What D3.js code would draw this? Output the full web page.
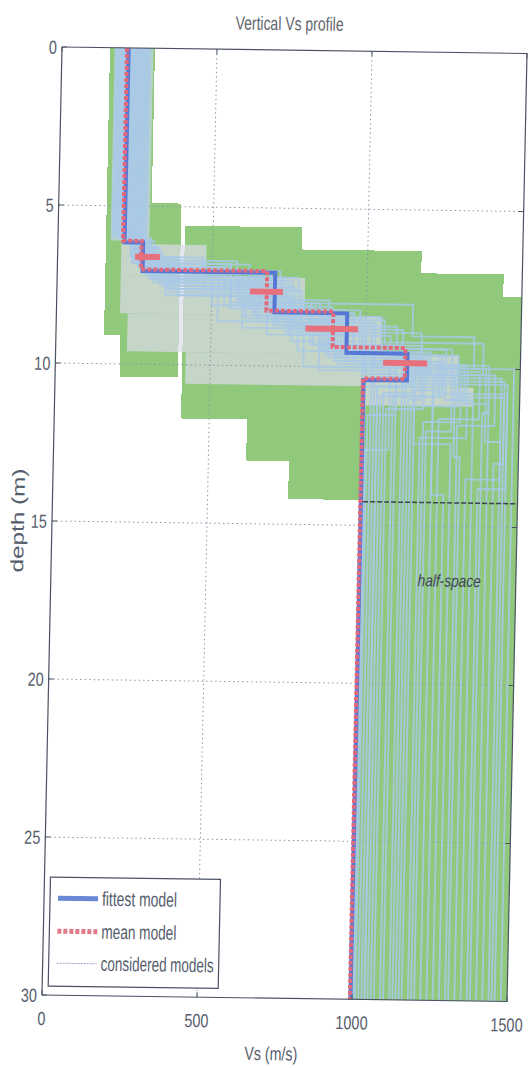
<!DOCTYPE html>
<html><head><meta charset="utf-8">
<script src="https://cdn.jsdelivr.net/npm/d3@7"></script>
<style>
body{margin:0;background:#fff}
text{font-family:"Liberation Sans",Arial,sans-serif;fill:#565d6c}
</style>
</head><body>
<svg id="c" width="529" height="1068"></svg>
<script>
// ---- data ----
const title = "Vertical Vs profile";
const xLabel = "Vs (m/s)";
const yLabel = "depth (m)";
const xTicks = [0, 500, 1000, 1500];
const yTicks = [0, 5, 10, 15, 20, 25, 30];
const fittestVs = [215, 275, 703, 938, 1135, 995];
const fittestZ  = [6.15, 7.05, 8.3, 9.55, 10.4];
const meanVs = [210, 270, 677, 893, 1128, 993];
const meanZ  = [6.1, 7.0, 8.25, 9.37, 10.35];
const meanBarV   = [290, 676, 889, 1128];
const meanBarErr = [40, 53, 85, 71];
const meanBarD   = [6.6, 7.65, 8.8, 9.85];
// search space (green)
const searchV0 = [155, 208, 300, 409, 622, 760, 787, 995, 1174, 1440];
const searchV1 = [208, 300, 396, 622, 760, 787, 995, 1174, 1440, 1500];
const searchD0 = [0, 0, 4.9, 5.6, 5.6, 5.6, 6.3, 6.3, 7.0, 7.7];
const searchD1 = [9.1, 10.4, 10.4, 11.7, 13.0, 14.2, 14.2, 30, 30, 30];
// dense overlap core of considered models
const coreV0 = [170, 205, 205, 230, 420, 990];
const coreV1 = [295, 480, 800, 1050, 1300, 1350];
const coreD0 = [0, 6.2, 7.2, 8.4, 9.6, 10.6];
const coreD1 = [6.1, 7.2, 8.4, 9.6, 10.6, 11.2];
// considered models: layer velocities (last = half-space) and layer bottoms
const consideredVs = [
 [180,240,560,820,1180,1040],[250,330,650,900,1250,1090],[200,300,720,980,1300,1150],
 [270,380,600,850,1100,1010],[230,290,760,1050,1380,1220],[190,260,500,780,1150,1060],
 [285,350,680,1000,1420,1300],[210,310,740,920,1200,1120],[245,270,630,960,1330,1180],
 [175,250,580,880,1260,1350],[260,340,700,1100,1450,1420],[220,280,660,870,1170,1030],
 [235,320,780,1150,1350,1480],[195,265,520,800,1080,1005],[275,360,740,990,1220,1260],
 [205,295,690,940,1140,1100],[255,300,610,910,1400,1380],[185,245,560,850,1280,1200],
 [240,330,720,1020,1300,1450],[215,280,650,880,1190,1070],[265,390,750,1080,1440,1330],
 [200,270,540,830,1120,1040],[225,285,700,960,1250,1160],[280,340,770,1120,1370,1240],
 [190,255,620,900,1160,1280],[250,310,680,1060,1320,1400],[210,290,600,860,1210,1020],
 [235,305,730,1000,1290,1310],[270,370,710,940,1230,1460],[200,275,590,890,1130,1130],
 [180,235,470,760,1020,1000],[265,355,790,1180,1460,1370],[225,300,640,930,1240,1050],
 [255,325,705,990,1310,1190],[195,285,560,870,1180,1140],[240,315,750,1030,1390,1440]
];
const consideredZ = [
 [5.9,6.8,8.0,9.3,10.6],[6.3,7.3,8.6,9.8,10.9],[6.0,7.0,8.2,9.6,11.2],
 [6.6,7.6,8.8,10.1,11.5],[6.2,7.2,8.4,9.2,10.2],[5.8,6.9,8.1,9.5,10.8],
 [6.8,7.8,9.0,10.2,11.8],[6.1,7.4,8.5,9.7,10.5],[6.4,7.1,8.3,9.9,12.2],
 [6.0,6.7,7.9,9.4,11.0],[6.5,7.5,8.7,10.4,13.0],[6.2,7.0,8.2,9.6,10.3],
 [6.3,7.2,8.0,9.0,10.0],[5.9,6.9,8.6,10.0,12.6],[6.7,7.7,8.9,10.6,14.0],
 [6.1,7.1,8.3,9.5,10.4],[6.4,7.3,8.5,9.9,11.4],[5.8,6.8,8.0,9.4,12.0],
 [6.3,7.4,8.6,10.0,10.9],[6.2,7.0,8.4,9.7,11.3],[6.6,7.8,9.0,10.3,13.5],
 [6.0,6.9,8.1,9.3,10.6],[6.2,7.1,8.3,9.6,10.7],[6.7,7.5,8.8,10.1,11.6],
 [5.9,6.8,8.2,9.8,12.4],[6.4,7.3,8.5,9.9,11.1],[6.1,7.2,8.4,9.5,10.2],
 [6.3,7.2,8.5,10.2,12.8],[6.6,7.6,8.7,9.8,10.8],[6.0,7.0,8.1,9.4,10.5],
 [5.9,6.6,7.8,9.2,10.4],[6.6,7.6,8.9,10.5,13.8],[6.2,7.1,8.4,9.6,10.9],
 [6.5,7.4,8.6,9.9,11.7],[6.0,6.9,8.2,9.5,11.0],[6.3,7.3,8.6,10.0,12.3]
];
const halfSpaceDepth = 14.25;
const halfSpaceV = [1002, 1500];
const halfSpaceText = "half-space";
const legendLabels = ["fittest model", "mean model", "considered models"];

// ---- layout ----
const W = 465, H = 948, MAXD = 30;
const svg = d3.select("#c");
const g = svg.append("g").attr("transform", "matrix(1,0.014,-0.0211,1,62,47)");
const x = d3.scaleLinear().domain([0, 1500]).range([0, W]);
const y = d3.scaleLinear().domain([0, MAXD]).range([0, H]);

function stepPts(vs, z) {
  const pts = [[vs[0], 0]];
  for (let i = 0; i < z.length; i++) { pts.push([vs[i], z[i]]); pts.push([vs[i+1], z[i]]); }
  pts.push([vs[vs.length-1], MAXD]);
  return pts;
}
const line = d3.line().x(d => x(d[0])).y(d => y(d[1]));
// condense text horizontally (narrow font look)
function fit(sel, w) {
  sel.each(function(d) {
    const target = typeof w === "function" ? w.call(this, d) : w;
    this.setAttribute("textLength", target);
    this.setAttribute("lengthAdjust", "spacingAndGlyphs");
  });
  return sel;
}
function squeeze(sel, k) {
  sel.each(function() {
    const l = this.getComputedTextLength();
    this.setAttribute("textLength", l * k);
    this.setAttribute("lengthAdjust", "spacingAndGlyphs");
  });
  return sel;
}

// green search space
g.append("g").selectAll("rect").data(d3.range(searchV0.length)).join("rect")
  .attr("x", i => x(searchV0[i])).attr("y", i => y(searchD0[i]))
  .attr("width", i => x(searchV1[i]) - x(searchV0[i]))
  .attr("height", i => y(searchD1[i]) - y(searchD0[i]))
  .attr("fill", "#90c87c").attr("shape-rendering", "crispEdges");

// dense core
g.append("g").selectAll("rect").data(d3.range(coreV0.length)).join("rect")
  .attr("x", i => x(coreV0[i])).attr("y", i => y(coreD0[i]))
  .attr("width", i => x(coreV1[i]) - x(coreV0[i]))
  .attr("height", i => y(coreD1[i]) - y(coreD0[i]))
  .attr("fill", i => i === 0 ? "#c9d9e6" : "#dcdcea").attr("opacity", 0.7);

// grid
const grid = g.append("g").attr("stroke", "#8a94a8").attr("stroke-width", 1).attr("stroke-dasharray", "1.5,3");
grid.selectAll(".gx").data(xTicks.slice(1, -1)).join("line")
  .attr("x1", d => x(d)).attr("x2", d => x(d)).attr("y1", 0).attr("y2", H);
grid.selectAll(".gy").data(yTicks.slice(1, -1)).join("line")
  .attr("y1", d => y(d)).attr("y2", d => y(d)).attr("x1", 0).attr("x2", W);

// considered models
g.append("g").selectAll("path").data(d3.range(consideredVs.length)).join("path")
  .attr("d", i => line(stepPts(consideredVs[i], consideredZ[i])))
  .attr("fill", "none").attr("stroke", "#a9c9e6").attr("stroke-width", 1.9).attr("opacity", 0.85);

// half-space boundary
g.append("line").attr("x1", x(halfSpaceV[0])).attr("x2", x(halfSpaceV[1]))
  .attr("y1", y(halfSpaceDepth)).attr("y2", y(halfSpaceDepth))
  .attr("stroke", "#3a4450").attr("stroke-width", 1.5).attr("stroke-dasharray", "5,2");
fit(g.append("text").attr("x", x(1285)).attr("y", y(16.9)).attr("text-anchor", "middle")
  .attr("font-size", 17).attr("font-style", "italic").style("fill", "#3d4550").text(halfSpaceText), 63);

// fittest
g.append("path").attr("d", line(stepPts(fittestVs, fittestZ)))
  .attr("fill", "none").attr("stroke", "#5677d6").attr("stroke-width", 4);
// mean
g.append("path").attr("d", line(stepPts(meanVs, meanZ)))
  .attr("fill", "none").attr("stroke", "#e2687a").attr("stroke-width", 4).attr("stroke-dasharray", "4,2");
// mean error bars
g.append("g").selectAll("line").data(d3.range(meanBarV.length)).join("line")
  .attr("x1", i => x(meanBarV[i] - meanBarErr[i])).attr("x2", i => x(meanBarV[i] + meanBarErr[i]))
  .attr("y1", i => y(meanBarD[i])).attr("y2", i => y(meanBarD[i]))
  .attr("stroke", "#e6707c").attr("stroke-width", 6);

// frame
g.append("rect").attr("x", 0).attr("y", 0).attr("width", W).attr("height", H)
  .attr("fill", "none").attr("stroke", "#4a5262").attr("stroke-width", 1.2);
// ticks
const tk = g.append("g").attr("stroke", "#4a5262");
tk.selectAll(".tx").data(xTicks).join("line").attr("x1", d => x(d)).attr("x2", d => x(d)).attr("y1", H).attr("y2", H - 5);
tk.selectAll(".tx2").data(xTicks).join("line").attr("x1", d => x(d)).attr("x2", d => x(d)).attr("y1", 0).attr("y2", 5);
tk.selectAll(".ty").data(yTicks).join("line").attr("y1", d => y(d)).attr("y2", d => y(d)).attr("x1", 0).attr("x2", 5);
tk.selectAll(".ty2").data(yTicks).join("line").attr("y1", d => y(d)).attr("y2", d => y(d)).attr("x1", W).attr("x2", W - 5);

// tick labels
squeeze(g.append("g").selectAll("text").data(xTicks).join("text")
  .attr("x", d => x(d)).attr("y", H + 30).attr("text-anchor", "middle").attr("font-size", 19).text(d => d), 0.76);
squeeze(g.append("g").selectAll("text").data(yTicks).join("text")
  .attr("x", -5).attr("y", d => y(d) + 7).attr("text-anchor", "end").attr("font-size", 19).text(d => d), 0.76);

// titles
fit(g.append("text").attr("x", 227).attr("y", -20).attr("text-anchor", "middle").attr("font-size", 19)
  .style("fill", "#62666e").text(title), 108);
fit(g.append("text").attr("x", 230).attr("y", H + 62).attr("text-anchor", "middle").attr("font-size", 19).text(xLabel), 53);
fit(g.append("text").attr("transform", `translate(-28,${H/2}) rotate(-90)`).attr("text-anchor", "middle")
  .attr("font-size", 18).text(yLabel), 104);

// legend
const lg = g.append("g").attr("transform", "translate(6,830)");
lg.append("rect").attr("width", 170).attr("height", 109).attr("fill", "#fff").attr("stroke", "#4a5262").attr("stroke-width", 1.2);
const sampleY = [21, 54, 86];
const legendW = [75, 75, 113];
const sampleStyle = [
  {stroke: "#6a88d8", w: 5, dash: null},
  {stroke: "#e07a8a", w: 5, dash: "4,2"},
  {stroke: "#98a8c0", w: 1, dash: "2,1"}
];
legendLabels.forEach((lab, i) => {
  lg.append("line").attr("x1", 8).attr("x2", 48).attr("y1", sampleY[i]).attr("y2", sampleY[i])
    .attr("stroke", sampleStyle[i].stroke).attr("stroke-width", sampleStyle[i].w)
    .attr("stroke-dasharray", sampleStyle[i].dash);
  fit(lg.append("text").attr("x", 52).attr("y", sampleY[i] + 7).attr("font-size", 20).text(lab), legendW[i]);
});
</script>
</body></html>
